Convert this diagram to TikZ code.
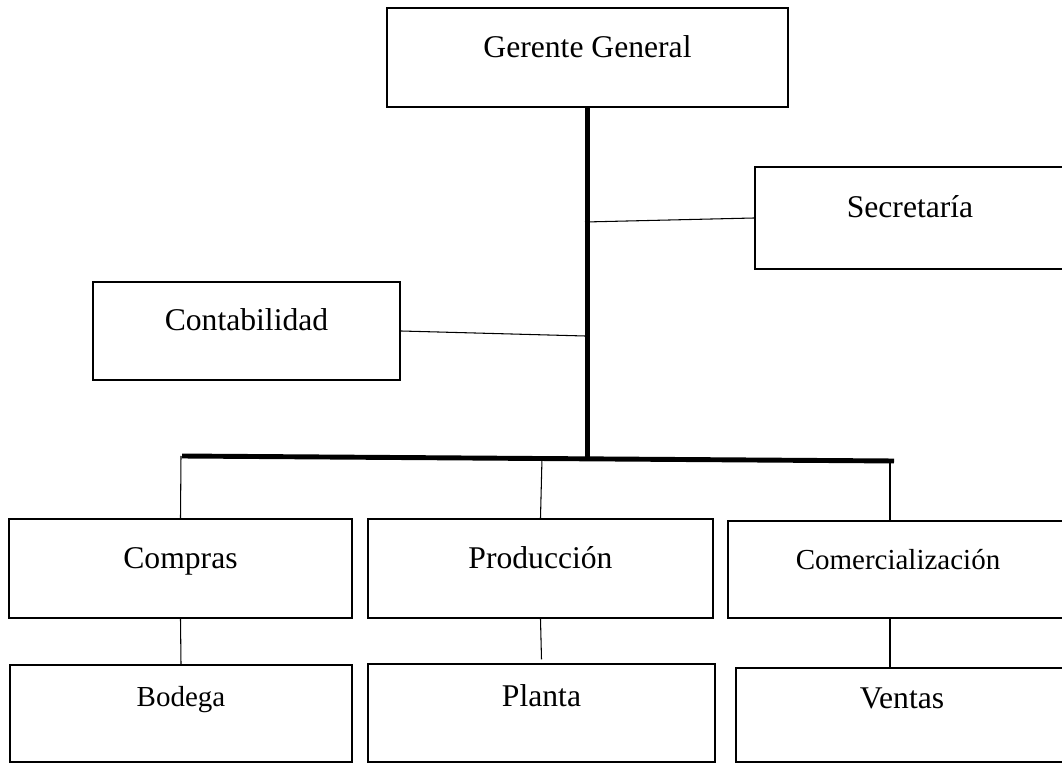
\documentclass[tikz,border=0pt]{standalone}
\usepackage{fontspec}
\setmainfont{Liberation Serif}
\usepackage{tikz}

\begin{document}
\begin{tikzpicture}[x=0.02cm,y=-0.02cm,
    box/.style={draw,line width=1.4pt,inner sep=0pt,
      text height=0.3cm,text depth=0.3cm,
      font=\fontsize{18}{21.6}\selectfont},
    smalltext/.style={font=\fontsize{16.5}{19.8}\selectfont},
    raised/.style={text depth=0.58cm},
    link/.style={line width=0.6pt},
    spine/.style={line width=2.8pt}]
    \clip (0,0) rectangle (1062,763);
    \node[box,minimum width=8.02cm,minimum height=1.98cm] (gerente) at (587.5,57.5) {Gerente General};
    \node[box,minimum width=6.2cm,minimum height=2.04cm] (secretaria) at (910,218) {Secretaría};
    \node[box,minimum width=6.14cm,minimum height=1.96cm] (contabilidad) at (246.5,331) {Contabilidad};
    \node[box,minimum width=6.86cm,minimum height=1.98cm] (compras) at (180.5,568.5) {Compras};
    \node[box,minimum width=6.9cm,minimum height=1.98cm] (produccion) at (540.5,568.5) {Producción};
    \node[box,smalltext,minimum width=6.8cm,minimum height=1.94cm] (comercial) at (898,569.5) {Comercialización};
    \node[box,smalltext,raised,minimum width=6.84cm,minimum height=1.94cm] (bodega) at (181,713.5) {Bodega};
    \node[box,raised,minimum width=6.94cm,minimum height=1.96cm] (planta) at (541.5,713) {Planta};
    \node[box,raised,minimum width=6.64cm,minimum height=1.88cm] (ventas) at (902,715) {Ventas};
    % tronco y barra
    \coordinate (hub) at (585,458);
    \coordinate (barL) at (182,456);
    \coordinate (barR) at (894,461);
    \coordinate (secJ) at (585,222);
    \coordinate (conJ) at (585,336);
    \coordinate (dropA) at (181,456);
    \coordinate (dropB) at (542,458);
    \coordinate (dropC) at (890,461);
    \draw[spine] (gerente.south) -- (gerente.south |- hub);
    \draw[spine] (barL) -- (barR);
    \draw[link] (secJ) -- (secretaria.west);
    \draw[link] (contabilidad.east) -- (conJ);
    \draw[link] (dropA) -- (compras.north);
    \draw[link] (dropB) -- (produccion.north);
    \draw[link] (dropC) -- (dropC |- comercial.north);
    \draw[link] (compras.south) -- (bodega.north);
    \draw[link] (produccion.south) -- ([yshift=2pt]planta.north);
    \draw[link] (dropC |- comercial.south) -- (dropC |- ventas.north);
  \end{tikzpicture}
\end{document}
